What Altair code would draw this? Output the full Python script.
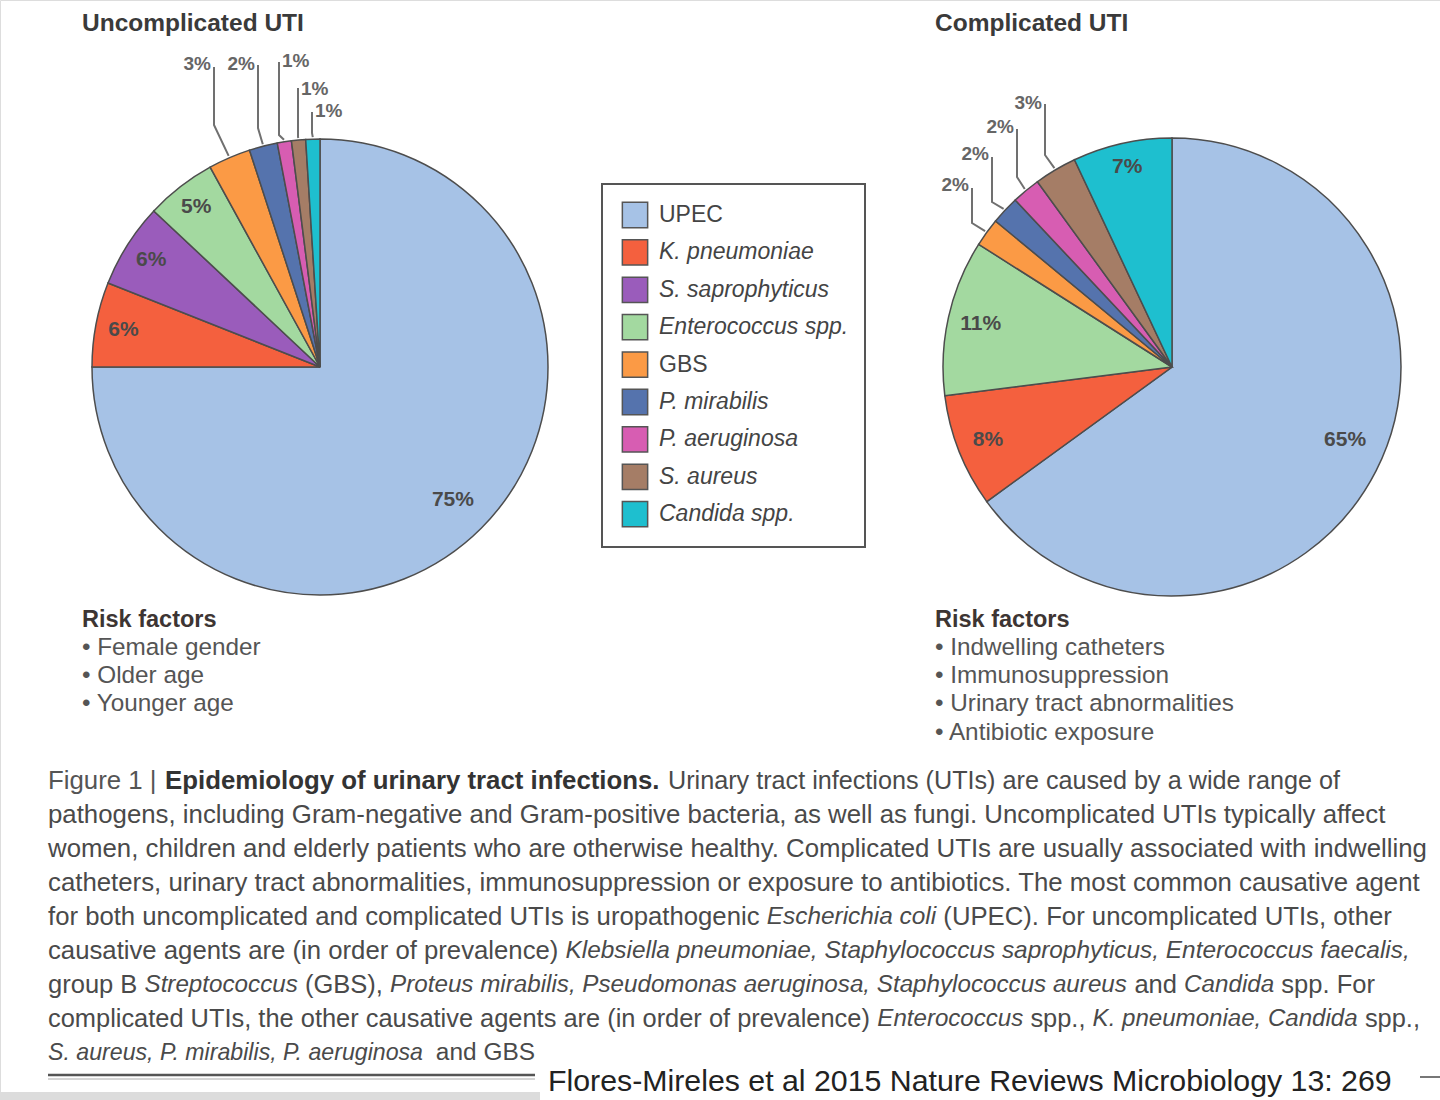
import math
import altair as alt
import pandas as pd

# ---------------- data ----------------
categories = ["UPEC", "K. pneumoniae", "S. saprophyticus", "Enterococcus spp.", "GBS",
              "P. mirabilis", "P. aeruginosa", "S. aureus", "Candida spp."]
italic_flags = [False, True, True, True, False, True, True, True, True]
uncomplicated_pct = [75, 6, 6, 5, 3, 2, 1, 1, 1]
complicated_pct = [65, 8, 0, 11, 2, 2, 2, 3, 7]
colors = ["#a6c2e6", "#f4603e", "#9a5cbb", "#a3d9a0", "#fb9a45",
          "#5573ad", "#d75db2", "#a57d66", "#1ebfcf"]

titles = ["Uncomplicated UTI", "Complicated UTI"]
risk_left = ["• Female gender", "• Older age", "• Younger age"]
risk_right = ["• Indwelling catheters", "• Immunosuppression",
              "• Urinary tract abnormalities", "• Antibiotic exposure"]

caption_first = ["Figure 1 | ", "Epidemiology of urinary tract infections.",
                 "Urinary tract infections (UTIs) are caused by a wide range of"]
# each caption line: list of (text, italic)
caption_lines = [
    [("pathogens, including Gram-negative and Gram-positive bacteria, as well as fungi. Uncomplicated UTIs typically affect", False)],
    [("women, children and elderly patients who are otherwise healthy. Complicated UTIs are usually associated with indwelling", False)],
    [("catheters, urinary tract abnormalities, immunosuppression or exposure to antibiotics. The most common causative agent", False)],
    [("for both uncomplicated and complicated UTIs is uropathogenic ", False), ("Escherichia coli", True),
     (" (UPEC). For uncomplicated UTIs, other", False)],
    [("causative agents are (in order of prevalence) ", False),
     ("Klebsiella pneumoniae, Staphylococcus saprophyticus, Enterococcus faecalis,", True)],
    [("group B ", False), ("Streptococcus", True), (" (GBS), ", False),
     ("Proteus mirabilis, Pseudomonas aeruginosa, Staphylococcus aureus", True), (" and ", False),
     ("Candida", True), (" spp. For", False)],
    [("complicated UTIs, the other causative agents are (in order of prevalence) ", False),
     ("Enterococcus", True), (" spp., ", False), ("K. pneumoniae, Candida", True), (" spp.,", False)],
    [("S. aureus, P. mirabilis, P. aeruginosa", True), (" and GBS", False)],
]
citation = "Flores-Mireles et al 2015 Nature Reviews  Microbiology 13: 269"

# ---------------- layout ----------------
W, H = 1440, 1100
FONT = "Liberation Sans"
PIES = [dict(cx=320, cy=367, r=228, vals=uncomplicated_pct, tx=82),
        dict(cx=1172, cy=367, r=229, vals=complicated_pct, tx=935)]
inside_idx = [[0, 1, 2, 3], [0, 1, 3, 8]]
inside_r = [[188, 200, 200, 202], [188, 198, 196, 205]]
# (category index, vertical x, top y, bend y, label x, label y, align)
outside = [
    [(4, 214, 67, 125, 211, 64, "right"), (5, 258, 65, 128, 255, 64, "right"),
     (6, 279, 62, 135, 282, 61, "left"), (7, 298, 88, 137, 301, 89, "left"),
     (8, 312, 112, 133, 315, 111, "left")],
    [(4, 972, 188, 223, 969, 185, "right"), (5, 992, 157, 202, 989, 154, "right"),
     (6, 1017, 129, 177, 1014, 127, "right"), (7, 1045, 104, 155, 1042, 103, "right")],
]
cap_x0 = 48
cap_line_y0, cap_line_dy = 815, 34
cap_line_end = [1388, 1430, 1422, 1392, 1410, 1375, 1420, 535]
ITALIC_REL = 0.948

# Arial / Liberation Sans advance widths (per 1000 em), regular & italic
_AW = {' ': 278, '!': 278, '"': 355, '#': 556, '$': 556, '%': 889, '&': 667, "'": 191, '(': 333,
       ')': 333, '*': 389, '+': 584, ',': 278, '-': 333, '.': 278, '/': 278, ':': 278, ';': 278,
       '?': 556, 'A': 667, 'B': 667, 'C': 722, 'D': 722, 'E': 667, 'F': 611, 'G': 778, 'H': 722,
       'I': 278, 'J': 500, 'K': 667, 'L': 556, 'M': 833, 'N': 722, 'O': 778, 'P': 667, 'Q': 778,
       'R': 722, 'S': 667, 'T': 611, 'U': 722, 'V': 667, 'W': 944, 'X': 667, 'Y': 667, 'Z': 611,
       'a': 556, 'b': 556, 'c': 500, 'd': 556, 'e': 556, 'f': 278, 'g': 556, 'h': 556, 'i': 222,
       'j': 222, 'k': 500, 'l': 222, 'm': 833, 'n': 556, 'o': 556, 'p': 556, 'q': 556, 'r': 333,
       's': 500, 't': 278, 'u': 556, 'v': 500, 'w': 722, 'x': 500, 'y': 500, 'z': 500}


def tw(s, size):
    return sum(_AW.get(c, 556) for c in s) * size / 1000.0


XS = alt.Scale(domain=[0, W], range=[0, W], nice=False, zero=False)
YS = alt.Scale(domain=[0, H], range=[0, H], nice=False, zero=False)
CS = alt.Scale(domain=categories, range=colors)


def mids(vals):
    cum, out = 0, []
    for v in vals:
        out.append((cum + v / 2) / 100 * 2 * math.pi)
        cum += v
    return out


def pos(p, ang, r):
    return p["cx"] + r * math.sin(ang), p["cy"] - r * math.cos(ang)


def text_layer(df, size_field=False, **kw):
    enc = dict(x=alt.X("x:Q", scale=XS, axis=None),
               y=alt.Y("y:Q", scale=YS, axis=None),
               text="t:N")
    if size_field:
        enc["size"] = alt.Size("fs:Q", scale=None, legend=None)
    return alt.Chart(df).mark_text(**kw).encode(**enc)


layers = []

# pies
for p in PIES:
    df = pd.DataFrame({"category": categories, "value": p["vals"], "idx": range(len(categories))})
    df = df[df.value > 0]
    layers.append(
        alt.Chart(df).mark_arc(radius=p["r"], stroke="#4d4d4d", strokeWidth=1.5).encode(
            theta=alt.Theta("value:Q", stack=True),
            color=alt.Color("category:N", scale=CS, legend=None),
            order=alt.Order("idx:Q"),
            x=alt.value(p["cx"]), y=alt.value(p["cy"]),
        )
    )

# inside labels & leader lines
in_rows, out_rows, line_rows = [], [], []
for k, p in enumerate(PIES):
    m = mids(p["vals"])
    for i, r in zip(inside_idx[k], inside_r[k]):
        ang = m[i] - (0.07 if (k == 1 and i == 0) else 0.0)
        x, y = pos(p, ang, r)
        in_rows.append({"x": x, "y": y, "t": f"{p['vals'][i]}%"})
    for j, (i, vx, yt, yb, lx, ly, al) in enumerate(outside[k]):
        ex, ey = pos(p, m[i], p["r"] + 2)
        lid = f"{k}-{j}"
        line_rows += [{"id": lid, "s": 0, "x": vx, "y": yt},
                      {"id": lid, "s": 1, "x": vx, "y": yb},
                      {"id": lid, "s": 2, "x": ex, "y": ey}]
        out_rows.append({"x": lx, "y": ly, "t": f"{p['vals'][i]}%", "al": al})

layers.append(
    alt.Chart(pd.DataFrame(line_rows)).mark_line(color="#707070", strokeWidth=2).encode(
        x=alt.X("x:Q", scale=XS, axis=None), y=alt.Y("y:Q", scale=YS, axis=None),
        detail="id:N", order="s:Q")
)
layers.append(text_layer(pd.DataFrame(in_rows), font=FONT, fontSize=21, fontWeight="bold",
                         color="#4a4a4a", align="center", baseline="middle"))
odf = pd.DataFrame(out_rows)
for al in ["left", "right"]:
    layers.append(text_layer(odf[odf.al == al], font=FONT, fontSize=19, fontWeight="bold",
                             color="#666666", align=al, baseline="middle"))

# titles and risk factors
trows, rrows, hrows = [], [], []
for k, p in enumerate(PIES):
    trows.append({"x": p["tx"], "y": 24, "t": titles[k]})
    hrows.append({"x": p["tx"], "y": 620, "t": "Risk factors"})
    items = risk_left if k == 0 else risk_right
    for j, s in enumerate(items):
        rrows.append({"x": p["tx"], "y": 648 + j * 28.2, "t": s})
layers.append(text_layer(pd.DataFrame(trows), font=FONT, fontSize=24.5, fontWeight="bold",
                         color="#3a3a3a", align="left", baseline="middle"))
layers.append(text_layer(pd.DataFrame(hrows), font=FONT, fontSize=23.5, fontWeight="bold",
                         color="#3d3533", align="left", baseline="middle"))
layers.append(text_layer(pd.DataFrame(rrows), font=FONT, fontSize=24.3,
                         color="#555555", align="left", baseline="middle"))

# legend box
layers.append(
    alt.Chart(pd.DataFrame({"a": [0]})).mark_rect(fill="white", stroke="#555555", strokeWidth=2).encode(
        x=alt.value(602), x2=alt.value(865), y=alt.value(184), y2=alt.value(547))
)
leg = pd.DataFrame({"category": categories, "italic": italic_flags})
leg["y"] = [215 + 37.4 * i for i in range(len(categories))]
leg["x"] = 635
leg["tx"] = 659
leg["t"] = categories
layers.append(
    alt.Chart(leg).mark_square(size=640, opacity=1, stroke="#555555", strokeWidth=1.5).encode(
        x=alt.X("x:Q", scale=XS, axis=None), y=alt.Y("y:Q", scale=YS, axis=None),
        fill=alt.Fill("category:N", scale=CS, legend=None))
)
for it in [True, False]:
    sub = leg[leg.italic == it]
    layers.append(
        alt.Chart(sub).mark_text(font=FONT, fontSize=23, color="#444444", align="left",
                                 baseline="middle", fontStyle="italic" if it else "normal").encode(
            x=alt.X("tx:Q", scale=XS, axis=None), y=alt.Y("y:Q", scale=YS, axis=None), text="t:N")
    )

# caption
CAP = 25.8
layers.append(text_layer(pd.DataFrame([{"x": 48, "y": 781, "t": caption_first[0].strip()}]), font=FONT,
                         fontSize=CAP, color="#555555", align="left", baseline="middle"))
layers.append(text_layer(pd.DataFrame([{"x": 165, "y": 781, "t": caption_first[1]}]), font=FONT,
                         fontSize=CAP, fontWeight="bold", color="#333333", align="left", baseline="middle"))
layers.append(text_layer(pd.DataFrame([{"x": 668, "y": 781, "t": caption_first[2]}]), font=FONT,
                         fontSize=CAP - 0.6, color="#4a4a4a", align="left", baseline="middle"))

seg_rows = []
for li, segs in enumerate(caption_lines):
    base = sum(tw(s, 1000.0 * (ITALIC_REL if it else 1.0)) for s, it in segs) / 1000.0
    fs = (cap_line_end[li] - cap_x0) / base  # regular font size for this line
    fs = min(fs, CAP)
    x = cap_x0
    y = cap_line_y0 + cap_line_dy * li
    for s, it in segs:
        size = fs * (ITALIC_REL if it else 1.0)
        lead = len(s) - len(s.lstrip(" "))
        seg_rows.append({"x": x + tw(" " * lead, size), "y": y, "t": s.strip(), "fs": size, "it": it})
        x += tw(s, size)
seg_df = pd.DataFrame(seg_rows)
for it in [False, True]:
    layers.append(text_layer(seg_df[seg_df.it == it], size_field=True, font=FONT, color="#4a4a4a",
                             align="left", baseline="middle",
                             fontStyle="italic" if it else "normal"))

# bottom citation and rules
layers.append(
    alt.Chart(pd.DataFrame({"a": [0]})).mark_rect(fill="#dcdcdc").encode(
        x=alt.value(0), x2=alt.value(540), y=alt.value(1092), y2=alt.value(1100))
)
layers.append(
    alt.Chart(pd.DataFrame({"a": [0]})).mark_rule(color="#555555", strokeWidth=2.5).encode(
        x=alt.value(48), x2=alt.value(535), y=alt.value(1075))
)
layers.append(
    alt.Chart(pd.DataFrame({"a": [0]})).mark_rule(color="#aaaaaa", strokeWidth=1).encode(
        x=alt.value(48), x2=alt.value(535), y=alt.value(1079))
)
layers.append(
    alt.Chart(pd.DataFrame({"a": [0]})).mark_rule(color="#777777", strokeWidth=2).encode(
        x=alt.value(1420), x2=alt.value(1440), y=alt.value(1077))
)
layers.append(text_layer(pd.DataFrame([{"x": 548, "y": 1082, "t": citation}]), font=FONT,
                         fontSize=30.3, color="#222222", align="left", baseline="middle"))

chart = alt.layer(*layers).properties(
    width=W, height=H, padding=0, autosize=alt.AutoSizeParams(type="none")
).configure_view(stroke=None).configure(background="white")

chart.save("out.html", embed_options={"renderer": "svg", "actions": False})
